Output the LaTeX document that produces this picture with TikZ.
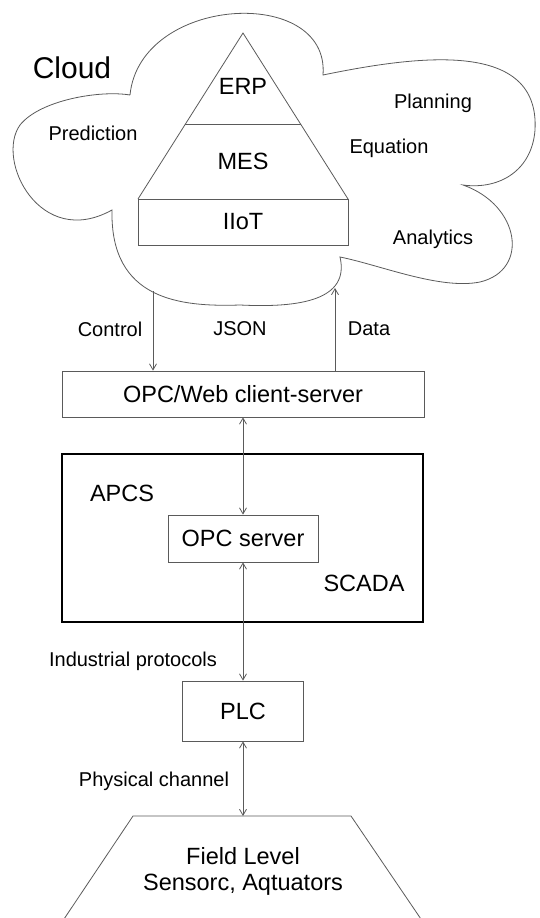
\documentclass[tikz,border=0pt]{standalone}
\usepackage{fontspec}
\setmainfont{Liberation Sans}
\usepackage{tikz}
\usetikzlibrary{positioning,calc,arrows.meta}
\definecolor{linegray}{HTML}{5a5a5a}

\begin{document}
\begin{tikzpicture}[x=1pt, y=-1pt,
  box/.style={draw=linegray, line width=0.8pt, rectangle, inner sep=0pt},
  big/.style={font=\fontsize{23.5}{27}\selectfont},
  small/.style={font=\fontsize{20}{24}\selectfont},
  link/.style={draw=linegray, line width=0.8pt},
  tip/.style={-{Straight Barb[length=6pt,width=7pt]}},
  twotip/.style={{Straight Barb[length=6pt,width=7pt]}-{Straight Barb[length=6pt,width=7pt]}}]
  \useasboundingbox (0,0) rectangle (539,918);

  % Cloud
  \draw[link] (130,95) .. controls (140,-5) and (330,-15) .. (323,75)
    .. controls (420,55) and (540,40) .. (535,130)
    .. controls (532,170) and (500,190) .. (463,185)
    .. controls (520,205) and (530,270) .. (480,282)
    .. controls (440,290) and (380,265) .. (340,257)
    .. controls (350,300) and (300,308) .. (240,305)
    .. controls (180,307) and (110,300) .. (112,210)
    .. controls (40,250) and (-5,160) .. (20,125)
    .. controls (40,100) and (100,90) .. (130,95);
  \node[font=\fontsize{30}{34}\selectfont] (cloud) at (72,68) {Cloud};

  % Pyramid
  \draw[link] (138,199) -- (243,33) -- (348,199);
  \draw[link] (185.4,124) -- (300.6,124);
  \draw[link] (138,199) rectangle (348,245);
  \node[big] (erp) at (243,86) {ERP};
  \node[big] (mes) at (243,161) {MES};
  \node[big] (iiot) at (243,222) {IIoT};

  \node[small] (predict) at (93,133) {Prediction};
  \node[small] (plan) at (433,103) {Planning};
  \node[small] (equat) at (389,148) {Equation};
  \node[small] (analyt) at (433,239) {Analytics};

  % Gateway
  \node[box, big, minimum width=362pt, minimum height=46pt] (opcweb) at (243,394) {OPC/Web client-server};
  \coordinate (ctrltop) at (153,291);
  \coordinate (datatop) at (335,288);
  \draw[link, tip] (ctrltop) -- (ctrltop |- opcweb.north);
  \draw[link, tip] (datatop |- opcweb.north) -- (datatop);
  \node[small] (ctrl) at (110,329) {Control};
  \node[small] (json) at (240,329) {JSON};
  \node[small] (data) at (369,329) {Data};

  % SCADA
  \node[box, draw=black, line width=2pt, minimum width=361pt, minimum height=168pt] (scada) at (242.5,538) {};
  \node[big] (apcs) at (122,493) {APCS};
  \node[big] (scadalbl) at (364,583) {SCADA};
  \node[box, big, minimum width=150pt, minimum height=47pt] (opcsrv) at (243,538.5) {OPC server};
  \draw[link, twotip] (opcweb.south) -- (opcsrv.north);

  % PLC
  \node[box, big, minimum width=121pt, minimum height=60pt] (plc) at (243,711) {PLC};
  \draw[link, twotip] (opcsrv.south) -- (plc.north);
  \node[small] (indprot) at (133,661) {Industrial protocols};

  % Field level
  \coordinate (field) at (243,816);
  \draw[link] (60,925) -- (133,816) -- (351,816) -- (425,925);
  \draw[link, twotip] (plc.south) -- (field);
  \node[small] (phys) at (154,781) {Physical channel};
  \node[big] (fieldlvl) at (243,856) {Field Level};
  \node[big] (sensors) at (243,885) {Sensorc, Aqtuators};
\end{tikzpicture}
\end{document}
